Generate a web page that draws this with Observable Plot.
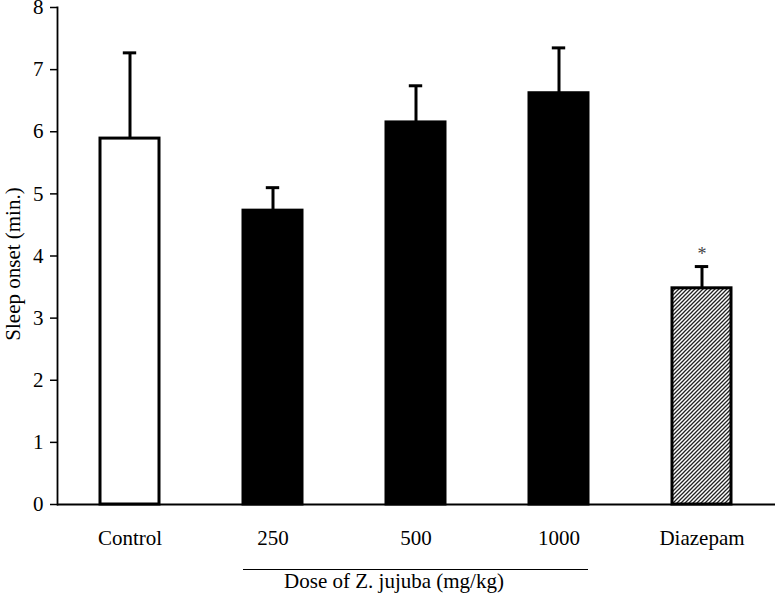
<!DOCTYPE html>
<html>
<head>
<meta charset="utf-8">
<script src="https://cdn.jsdelivr.net/npm/d3@7"></script>
<script src="https://cdn.jsdelivr.net/npm/@observablehq/plot@0.6"></script>
<style>
  html, body { margin: 0; padding: 0; background: #fff; }
</style>
</head>
<body>
<div id="chart"></div>
<script>
const categories = ["Control", "250", "500", "1000", "Diazepam"];
const means = [5.89, 4.73, 6.15, 6.62, 3.48];
const errTops = [7.27, 5.10, 6.74, 7.35, 3.83];
const significance = ["", "", "", "", "*"];
const yTicks = [0, 1, 2, 3, 4, 5, 6, 7, 8];
const yLabel = "Sleep onset (min.)";
const xGroupLabel = "Dose of Z. jujuba (mg/kg)";
const groupCategory = "500";
const groupStart = "250";
const groupEnd = "1000";

const data = categories.map((c, i) => ({cat: c, mean: means[i], top: errTops[i], sig: significance[i]}));
const fillFor = d => d.cat === "Control" ? "white" : d.cat === "Diazepam" ? "url(#hatch)" : "black";
const font = "Liberation Serif, Times New Roman, serif";

const chart = Plot.plot({
  width: 775,
  height: 598,
  marginTop: 7,
  marginBottom: 94,
  marginLeft: 57,
  marginRight: 2,
  style: {fontFamily: font, fontSize: "21px", color: "black", background: "white"},
  x: {domain: categories, paddingInner: 0.59, paddingOuter: 0.295, align: 0.5},
  y: {domain: [0, 8]},
  marks: [
    Plot.axisY({ticks: yTicks, tickSize: 7, tickPadding: 7, label: null, fontSize: 21, strokeWidth: 1.5}),
    Plot.axisX({tickSize: 0, tickPadding: 26, label: null, fontSize: 21}),
    Plot.frame({anchor: "left", strokeWidth: 1.8}),
    Plot.ruleY([0], {strokeWidth: 1.8, insetRight: -2}),
    Plot.ruleX(data, {x: "cat", y1: "mean", y2: "top", strokeWidth: 3}),
    Plot.tickY(data, {x: "cat", y: "top", strokeWidth: 3, insetLeft: 22.8, insetRight: 22.8}),
    Plot.barY(data, {x: "cat", y: "mean", fill: fillFor, stroke: "black", strokeWidth: 3}),
    Plot.text(data, {x: "cat", y: "top", text: "sig", dy: -7, lineAnchor: "bottom", fontSize: 18, fill: "#444"}),
    Plot.text([yLabel], {frameAnchor: "left", textAnchor: "middle", rotate: -90, dx: -38, dy: 8, lineAnchor: "bottom", fontSize: 21}),
    Plot.ruleY([{a: groupStart, b: groupEnd, y: 0}], {x1: "a", x2: "b", y: "y", dy: 65, strokeWidth: 1.2}),
    Plot.text([{cat: groupCategory, t: xGroupLabel}], {x: "cat", text: "t", frameAnchor: "bottom", dx: -22, dy: 83, lineAnchor: "bottom", fontSize: 21})
  ]
});

d3.select(chart).insert("defs", ":first-child").html(
  '<pattern id="hatch" patternUnits="userSpaceOnUse" width="4" height="4">' +
  '<rect width="4" height="4" fill="white"/>' +
  '<path d="M-1,1 l2,-2 M0,4 l4,-4 M3,5 l2,-2" stroke="#222" stroke-width="1.3"/>' +
  '</pattern>'
);
document.getElementById("chart").appendChild(chart);
</script>
</body>
</html>
